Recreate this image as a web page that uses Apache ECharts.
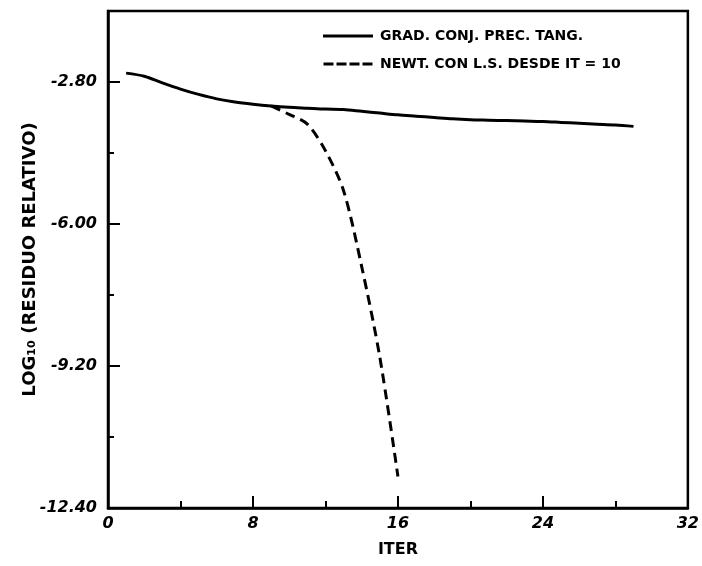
<!DOCTYPE html>
<html>
<head>
<meta charset="utf-8">
<script src="https://cdn.jsdelivr.net/npm/echarts@6/dist/echarts.min.js"></script>
<style>
  html, body { margin: 0; padding: 0; background: #fff; }
  #chart { width: 702px; height: 566px; }
</style>
</head>
<body>
<div id="chart"></div>
<script>
// residuo relativo (log10) por iteración — dos métodos

const gradIter = [1, 2, 3, 4, 5, 6, 7, 8, 9, 10, 11, 12, 13, 14, 15, 16, 17, 18, 19, 20, 21, 22, 23, 24, 25, 26, 27, 28, 29];
const gradVals = [-2.60, -2.67, -2.82, -2.96, -3.08, -3.18, -3.25, -3.30, -3.34, -3.37, -3.39, -3.41, -3.42, -3.46, -3.50, -3.54,
                  -3.57, -3.60, -3.63, -3.65, -3.66, -3.67, -3.68, -3.69, -3.71, -3.73, -3.75, -3.77, -3.80];

const newtIter = [9, 10, 11, 12, 13, 14, 15, 16];
const newtVals = [-3.34, -3.53, -3.75, -4.35, -5.25, -6.96, -9.00, -11.69];

const xMajor = [0, 8, 16, 24, 32];
const xMinor = [4, 12, 20, 28];
const yMajor = [-12.4, -9.2, -6.0, -2.8];
const yMinor = [-10.8, -7.6, -4.4];

const seriesNames = ['GRAD. CONJ. PREC. TANG.', 'NEWT. CON L.S. DESDE IT = 10'];

const ink = '#000';
const labelFont = { color: ink, fontFamily: 'DejaVu Sans', fontStyle: 'italic', fontWeight: 'bold', fontSize: 16 };

// legend swatches: solid bar and 4 dashes, same 50:3 aspect as the icon box
const solidIcon  = 'path://M0,0H50V3H0Z';
const dashedIcon = 'path://M0,0H10V3H0Z M13,0H23V3H13Z M26,0H36V3H26Z M39,0H49V3H39Z';

const chart = echarts.init(document.getElementById('chart'), null, { renderer: 'canvas' });

const xBase = {
  type: 'value', min: 0, max: 32, position: 'bottom',
  splitLine: { show: false },
};
const yBase = {
  type: 'value', min: -12.4, max: -1.2, position: 'left',
  splitLine: { show: false },
};

chart.setOption({
  backgroundColor: '#fff', animation: false,
  grid: { left: 108, right: 9, top: 11, bottom: 58, show: true, borderColor: ink, borderWidth: 2.5 },
  legend: {
    data: [
      { name: seriesNames[0], icon: solidIcon },
      { name: seriesNames[1], icon: dashedIcon },
    ],
    orient: 'vertical', left: 318, top: 23, itemGap: 12,
    itemWidth: 50, itemHeight: 3,
    textStyle: { color: ink, fontFamily: 'DejaVu Sans', fontWeight: 'bold', fontSize: 14, padding: [0, 0, 0, 2], lineHeight: 16 },
  },
  xAxis: [
    {
      ...xBase,
      name: 'ITER', nameLocation: 'middle', nameGap: 34, nameMoveOverlap: false,
      nameTextStyle: { color: ink, fontFamily: 'DejaVu Sans', fontWeight: 'bold', fontSize: 16 },
      axisLine: { lineStyle: { color: ink, width: 2.5 } },
      axisTick: { inside: true, length: 12, lineStyle: { color: ink, width: 2 }, customValues: xMajor },
      axisLabel: { ...labelFont, margin: 8, customValues: xMajor },
    },
    {
      ...xBase,
      axisLine: { show: false },
      axisTick: { inside: true, length: 7, lineStyle: { color: ink, width: 2 }, customValues: xMinor },
      axisLabel: { show: false },
    },
  ],
  yAxis: [
    {
      ...yBase,
      name: 'LOG₁₀ (RESIDUO RELATIVO)', nameLocation: 'middle', nameGap: 69, nameMoveOverlap: false,
      nameTextStyle: { color: ink, fontFamily: 'DejaVu Sans', fontWeight: 'bold', fontSize: 18 },
      axisLine: { show: true, lineStyle: { color: ink, width: 2.5 } },
      axisTick: { show: true, inside: true, length: 12, lineStyle: { color: ink, width: 2 }, customValues: yMajor },
      axisLabel: { ...labelFont, margin: 11, formatter: v => v.toFixed(2), customValues: yMajor },
    },
    {
      ...yBase,
      axisLine: { show: false },
      axisTick: { show: true, inside: true, length: 6, lineStyle: { color: ink, width: 2 }, customValues: yMinor },
      axisLabel: { show: false },
    },
  ],
  series: [
    {
      name: seriesNames[0], type: 'line', smooth: 0.3,
      data: gradIter.map((x, i) => [x, gradVals[i]]),
      symbol: 'none', itemStyle: { color: ink },
      lineStyle: { color: ink, width: 3 },
    },
    {
      name: seriesNames[1], type: 'line', smooth: 0.3,
      data: newtIter.map((x, i) => [x, newtVals[i]]),
      symbol: 'none', itemStyle: { color: ink },
      lineStyle: { color: ink, width: 3, type: [10, 6] },
    },
  ],
});
</script>
</body>
</html>
